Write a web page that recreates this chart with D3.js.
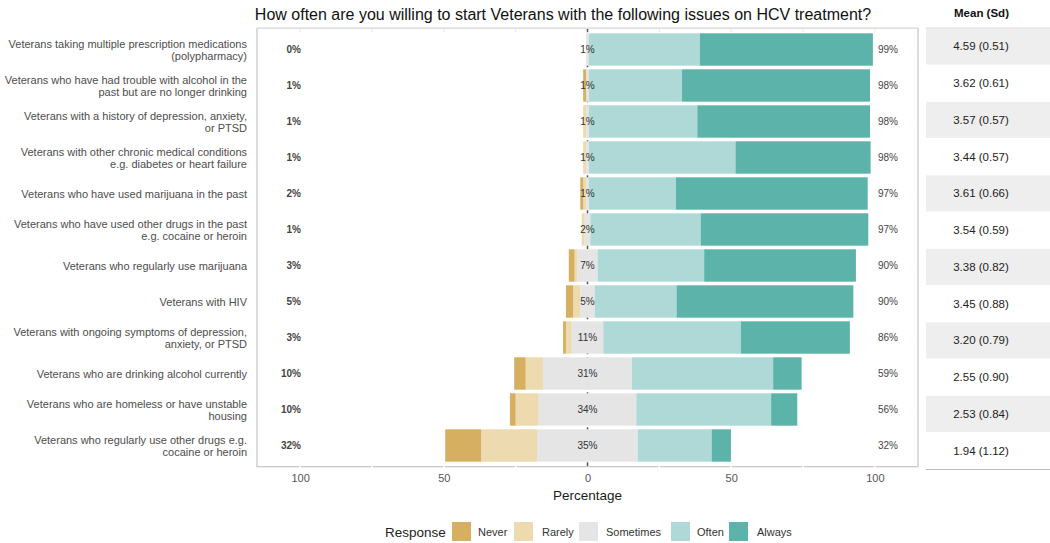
<!DOCTYPE html>
<html>
<head>
<meta charset="utf-8">
<script src="https://cdn.jsdelivr.net/npm/d3@7"></script>
<style>
  html, body { margin: 0; padding: 0; background: #fff; }
  svg { display: block; font-family: "Liberation Sans", Arial, sans-serif; }
</style>
</head>
<body>
<svg id="chart" width="1050" height="543"></svg>
<script>
// ---- data ----
const categories = [
  "Veterans taking multiple prescription medications\n(polypharmacy)",
  "Veterans who have had trouble with alcohol in the\npast but are no longer drinking",
  "Veterans with a history of depression, anxiety,\nor PTSD",
  "Veterans with other chronic medical conditions\ne.g. diabetes or heart failure",
  "Veterans who have used marijuana in the past",
  "Veterans who have used other drugs in the past\ne.g. cocaine or heroin",
  "Veterans who regularly use marijuana",
  "Veterans with HIV",
  "Veterans with ongoing symptoms of depression,\nanxiety, or PTSD",
  "Veterans who are drinking alcohol currently",
  "Veterans who are homeless or have unstable\nhousing",
  "Veterans who regularly use other drugs e.g.\ncocaine or heroin"
];
const responses = ["Never", "Rarely", "Sometimes", "Often", "Always"];
const never     = [0, 1, 0, 0, 1, 0, 2, 2.5, 1, 4, 2, 12.5];
const rarely    = [0, 0, 1, 1, 1, 1, 1, 2.5, 2, 6, 8, 19.5];
const sometimes = [1, 1, 1, 1, 1, 2, 7, 5, 11, 31, 34, 35];
const often     = [38.6, 32.4, 37.7, 51, 30.3, 38.4, 37.1, 28.5, 47.9, 49.1, 46.9, 25.7];
const always    = [60.2, 65.4, 60.1, 47, 66.7, 58.3, 52.8, 61.5, 37.9, 9.9, 9.1, 6.7];
const lowPct     = [0, 1, 1, 1, 2, 1, 3, 5, 3, 10, 10, 32];
const neutralPct = [1, 1, 1, 1, 1, 2, 7, 5, 11, 31, 34, 35];
const highPct    = [99, 98, 98, 98, 97, 97, 90, 90, 86, 59, 56, 32];
const meanSd = ["4.59 (0.51)", "3.62 (0.61)", "3.57 (0.57)", "3.44 (0.57)", "3.61 (0.66)",
  "3.54 (0.59)", "3.38 (0.82)", "3.45 (0.88)", "3.20 (0.79)", "2.55 (0.90)", "2.53 (0.84)", "1.94 (1.12)"];
const xTicks = [-100, -50, 0, 50, 100];
const gridTicks = [-100, -75, -50, -25, 0, 25, 50, 75, 100];
const title = "How often are you willing to start Veterans with the following issues on HCV treatment?";

const colors = {
  Never: "#D6AF60", Rarely: "#EDDAAF", Sometimes: "#E5E5E5", Often: "#AED9D6", Always: "#5BB3A9"
};

// ---- layout ----
const svg = d3.select("#chart");
const panel = { left: 257, right: 918, top: 28.3, bottom: 466.7 };

const x = d3.scaleLinear().domain([-115, 115]).range([panel.left, panel.right]);
const y = d3.scaleBand().domain(d3.range(categories.length))
  .range([panel.top + 3.2, panel.bottom - 3.2]).paddingInner(0.1).paddingOuter(0.05);

// stacked segments
const segs = [];
categories.forEach((c, i) => {
  const h = sometimes[i] / 2;
  segs.push({ i, r: "Sometimes", x0: -h, x1: h });
  segs.push({ i, r: "Rarely", x0: -h - rarely[i], x1: -h });
  segs.push({ i, r: "Never", x0: -h - rarely[i] - never[i], x1: -h - rarely[i] });
  segs.push({ i, r: "Often", x0: h, x1: h + often[i] });
  segs.push({ i, r: "Always", x0: h + often[i], x1: h + often[i] + always[i] });
});

// panel background
svg.append("rect").attr("x", panel.left).attr("y", panel.top)
  .attr("width", panel.right - panel.left).attr("height", panel.bottom - panel.top)
  .attr("fill", "#fff");

// zero dashed line (behind bars)
svg.append("line")
  .attr("x1", x(0)).attr("x2", x(0)).attr("y1", panel.top).attr("y2", panel.bottom)
  .attr("stroke", "#555").attr("stroke-width", 1.5).attr("stroke-dasharray", "4,3");

// bars
svg.append("g").selectAll("rect").data(segs.filter(d => d.x1 - d.x0 > 0)).join("rect")
  .attr("x", d => x(d.x0))
  .attr("width", d => x(d.x1) - x(d.x0))
  .attr("y", d => y(d.i))
  .attr("height", y.bandwidth())
  .attr("fill", d => colors[d.r]);

// panel border
svg.append("rect").attr("x", panel.left).attr("y", panel.top)
  .attr("width", panel.right - panel.left).attr("height", panel.bottom - panel.top)
  .attr("fill", "none").attr("stroke", "#c4c4c4").attr("stroke-width", 1.2);
svg.append("line").attr("x1", panel.left).attr("x2", panel.right)
  .attr("y1", panel.top).attr("y2", panel.top).attr("stroke", "#e0e0e0").attr("stroke-width", 1.2);

// grid marks on border
svg.append("g").selectAll("line").data(gridTicks.filter(t => t !== 0)).join("line")
  .attr("x1", d => x(d)).attr("x2", d => x(d))
  .attr("y1", panel.bottom - 2).attr("y2", panel.bottom + 2)
  .attr("stroke", "#fff").attr("stroke-width", 1.5);
svg.append("g").selectAll("line").data(gridTicks.filter(t => t !== 0)).join("line")
  .attr("x1", d => x(d)).attr("x2", d => x(d))
  .attr("y1", panel.top + 0.5).attr("y2", panel.top + 4)
  .attr("stroke", "#e6e6e6").attr("stroke-width", 1);

// x axis
const xAxis = d3.axisBottom(x).tickValues(xTicks).tickSize(0).tickPadding(8)
  .tickFormat(d => Math.abs(d));
const gx = svg.append("g").attr("transform", `translate(0,${panel.bottom})`).call(xAxis);
gx.select(".domain").remove();
gx.selectAll("text").attr("font-size", 11).attr("fill", "#555")
  .attr("font-family", "Liberation Sans, Arial, sans-serif");

svg.append("text").attr("x", x(0)).attr("y", 500).attr("text-anchor", "middle")
  .attr("font-size", 13.5).attr("fill", "#1a1a1a").text("Percentage");

// y labels
const gy = svg.append("g");
categories.forEach((c, i) => {
  const lines = c.split("\n");
  const cy = y(i) + y.bandwidth() / 2;
  const lh = 12;
  const t = gy.append("text").attr("text-anchor", "end").attr("font-size", 11)
    .attr("fill", "#4d4d4d");
  lines.forEach((l, k) => {
    t.append("tspan").attr("x", 247)
      .attr("y", cy + (k - (lines.length - 1) / 2) * lh + 4.5).text(l);
  });
});

// percentage labels
const lblG = svg.append("g").attr("font-size", 10).attr("fill", "#333");
lblG.selectAll("text.low").data(lowPct).join("text").attr("class", "low")
  .attr("x", 301).attr("y", (d, i) => y(i) + y.bandwidth() / 2 + 3.5)
  .attr("text-anchor", "end").attr("font-weight", "bold").attr("fill", "#444")
  .text(d => d + "%");
lblG.selectAll("text.mid").data(neutralPct).join("text").attr("class", "mid")
  .attr("x", x(0)).attr("y", (d, i) => y(i) + y.bandwidth() / 2 + 3.5)
  .attr("text-anchor", "middle").text(d => d + "%");
lblG.selectAll("text.high").data(highPct).join("text").attr("class", "high")
  .attr("x", 878).attr("y", (d, i) => y(i) + y.bandwidth() / 2 + 3.5)
  .attr("text-anchor", "start").attr("fill", "#444").text(d => d + "%");

// title
svg.append("text").attr("x", 563).attr("y", 20).attr("text-anchor", "middle")
  .attr("font-size", 16).attr("fill", "#111").text(title);

// table
const tbl = { left: 926, right: 1050, top: 28, rowH: 36.75 };
svg.append("text").attr("x", 981.5).attr("y", 17).attr("text-anchor", "middle")
  .attr("font-size", 11.5).attr("font-weight", "bold").attr("fill", "#111").text("Mean (Sd)");
const tg = svg.append("g");
tg.selectAll("rect").data(meanSd).join("rect")
  .attr("x", tbl.left).attr("width", tbl.right - tbl.left)
  .attr("y", (d, i) => tbl.top + i * tbl.rowH + 0.3)
  .attr("height", tbl.rowH - 0.6)
  .attr("fill", (d, i) => i % 2 === 0 ? "#EEEEEE" : "#fff");
tg.selectAll("text").data(meanSd).join("text")
  .attr("x", 981).attr("y", (d, i) => tbl.top + (i + 0.5) * tbl.rowH + 4)
  .attr("text-anchor", "middle").attr("font-size", 11.5).attr("fill", "#222").text(d => d);
svg.append("line").attr("x1", tbl.left).attr("x2", tbl.right)
  .attr("y1", tbl.top).attr("y2", tbl.top).attr("stroke", "#dcdcdc").attr("stroke-width", 1);
svg.append("line").attr("x1", tbl.left).attr("x2", tbl.right)
  .attr("y1", tbl.top + 12 * tbl.rowH + 0.5).attr("y2", tbl.top + 12 * tbl.rowH + 0.5)
  .attr("stroke", "#bbb").attr("stroke-width", 1.2);

// legend
const lg = svg.append("g");
lg.append("text").attr("x", 385).attr("y", 537).attr("font-size", 13.5).attr("fill", "#222").text("Response");
const keyX = [452, 514, 579, 671, 729];
const txtX = [478, 542, 606, 697, 757];
responses.forEach((r, k) => {
  lg.append("rect").attr("x", keyX[k]).attr("y", 522).attr("width", 19).attr("height", 19)
    .attr("fill", colors[r]);
  lg.append("text").attr("x", txtX[k]).attr("y", 536).attr("font-size", 11).attr("fill", "#333").text(r);
});
</script>
</body>
</html>
